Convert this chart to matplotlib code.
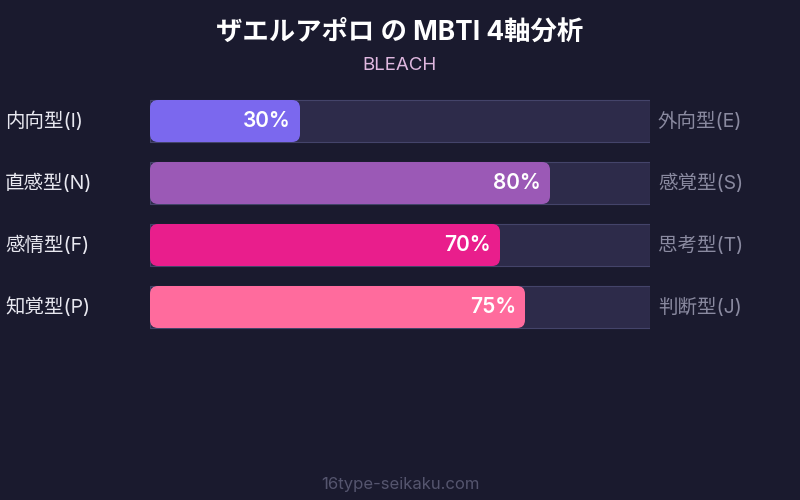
import matplotlib
matplotlib.use('Agg')
import matplotlib.pyplot as plt
from matplotlib.patches import FancyBboxPatch, Rectangle

plt.rcParams['font.family'] = ['Inter', 'Noto Sans CJK JP', 'DejaVu Sans']

# Data
left_labels = ['内向型(I)', '直感型(N)', '感情型(F)', '知覚型(P)']
right_labels = ['外向型(E)', '感覚型(S)', '思考型(T)', '判断型(J)']
values = [30, 80, 70, 75]
colors = ['#7b68ee', '#9b59b6', '#e91e8c', '#ff6b9d']

title = 'ザエルアポロ の MBTI 4軸分析'
subtitle = 'BLEACH'
footer = '16type-seikaku.com'

bg = '#1a1a2e'
W, H = 800, 500

fig = plt.figure(figsize=(8, 5), dpi=100, facecolor=bg)

# bars axes: x from 150 to 650 px, y from 90 to 338 px
ax = fig.add_axes([150 / W, 1 - 338 / H, 500 / W, 248 / H])
ax.set_xlim(0, 100)
ax.set_ylim(len(values) - 0.5, -0.5)
ax.axis('off')
ax.set_facecolor(bg)

bar_h = 42 / 62
px_x = 500 / 100   # px per x unit
px_y = 62          # px per y unit
aspect = px_x / px_y
rad = 8 / px_x

for i, (v, c) in enumerate(zip(values, colors)):
    ax.add_patch(Rectangle((0, i - bar_h / 2), 100, bar_h, facecolor='#2d2b4a',
                           edgecolor='#44446a', linewidth=0.8))
    ax.add_patch(FancyBboxPatch((0, i - bar_h / 2), v, bar_h,
                                boxstyle=f'round,pad=0,rounding_size={rad}',
                                mutation_aspect=aspect, facecolor=c, edgecolor='none'))
    ax.text(v - 9 / px_x, i, f'{v}%', ha='right', va='center', color='white',
            fontsize=15, fontweight='semibold')
    ax.text(-145 / px_x, i, left_labels[i], ha='left', va='center', color='#e8e8f0',
            fontsize=14, clip_on=False)
    ax.text(100 + 8 / px_x, i, right_labels[i], ha='left', va='center', color='#8a8aa0',
            fontsize=14, clip_on=False)

fig.text(0.5, 1 - 33 / H, title, ha='center', va='center', color='white',
         fontsize=19, fontweight='bold')
fig.text(0.5, 1 - 65 / H, subtitle, ha='center', va='center', color='#e0b8e0', fontsize=13.5)
fig.text(0.5, 1 - 484 / H, footer, ha='center', va='center', color='#55556e', fontsize=12)

fig.savefig('out.png', dpi=100, facecolor=bg)
